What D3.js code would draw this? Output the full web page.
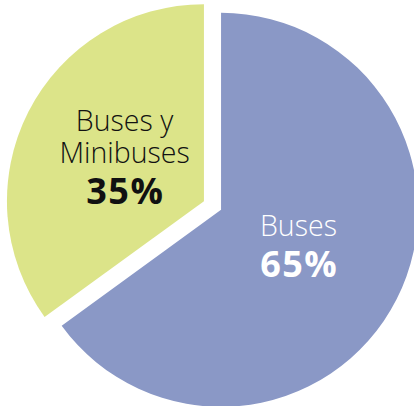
<!DOCTYPE html>
<html>
<head>
<meta charset="utf-8">
<script src="https://cdn.jsdelivr.net/npm/d3@7"></script>
<style>
  body { margin: 0; background: #fff; }
  svg { display: block; }
</style>
</head>
<body>
<div id="plot"></div>
<script>
// data
var categories = ["Buses", "Buses y Minibuses"];
var values = [65, 35];
var nameLines = [["Buses"], ["Buses y", "Minibuses"]];
var pctLabels = ["65%", "35%"];
var colors = ["#8a98c6", "#dce489"];
var nameColors = ["#ffffff", "#111111"];

var svgWidth = 414;
var svgHeight = 406;
var cx = 212.5, cy = 205.5;
var radius = 197;
var explode = 9.6;

var svg = d3.select("#plot")
    .append("svg")
    .attr("width", svgWidth)
    .attr("height", svgHeight);

var chartGroup = svg.append("g")
    .attr("transform", `translate(${cx}, ${cy})`);

var pie = d3.pie().sort(null).value(d => d);
var arcs = pie(values);

var arc = d3.arc().innerRadius(0).outerRadius(radius);
var labelArc = d3.arc().innerRadius(88).outerRadius(88);

function shift(d) {
    var a = (d.startAngle + d.endAngle) / 2;
    return [Math.sin(a) * explode, -Math.cos(a) * explode];
}

var slices = chartGroup.selectAll("g.slice")
    .data(arcs)
    .enter()
    .append("g")
    .attr("class", "slice")
    .attr("transform", d => `translate(${shift(d)})`);

slices.append("path")
    .attr("d", arc)
    .attr("fill", (d, i) => colors[i]);

// labels: name lines then bold percentage
slices.each(function (d, i) {
    var g = d3.select(this);
    var c = labelArc.centroid(d);
    var lines = nameLines[i];
    var x = c[0] - 1;
    var lastBase = c[1] + (i === 0 ? -14 : 2);

    lines.forEach(function (t, j) {
        g.append("text")
            .attr("x", x)
            .attr("y", lastBase - (lines.length - 1 - j) * 32.5)
            .attr("text-anchor", "middle")
            .style("font-family", "'Open Sans', sans-serif")
            .style("font-weight", 300)
            .style("font-size", "28.5px")
            .attr("fill", nameColors[i])
            .text(t);
    });
    // letter-spacing trails the last glyph, so nudge right to stay centred
    g.append("text")
        .attr("x", x + 0.75)
        .attr("y", lastBase + 41)
        .attr("text-anchor", "middle")
        .style("font-family", "'Open Sans', sans-serif")
        .style("font-weight", 700)
        .style("font-size", "36px")
        .style("letter-spacing", "1.5px")
        .attr("fill", nameColors[i])
        .text(pctLabels[i]);
});
</script>
</body>
</html>
